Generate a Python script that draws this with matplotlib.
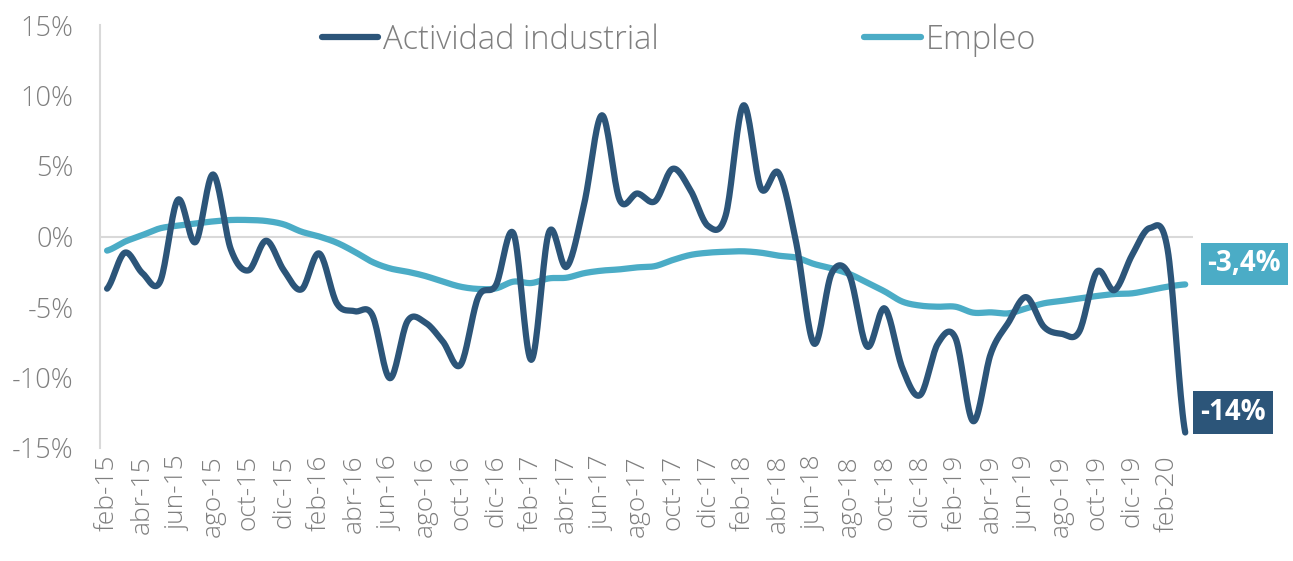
import numpy as np
import matplotlib
matplotlib.use("Agg")
import matplotlib.pyplot as plt
from matplotlib.lines import Line2D

plt.rcParams['font.family'] = ['Open Sans', 'DejaVu Sans']
plt.rcParams['font.weight'] = 'light'

# monthly, feb-15 .. mar-20 (% interanual)
months = ['ene', 'feb', 'mar', 'abr', 'may', 'jun', 'jul', 'ago', 'sep', 'oct', 'nov', 'dic']
labels = []
for k in range(62):
    m = (1 + k) % 12
    y = 15 + (1 + k) // 12
    labels.append('%s-%d' % (months[m], y))

actividad = [-3.7, -1.15, -2.6, -3.2, 2.6, -0.4, 4.4, -0.9, -2.4, -0.3,
             -2.4, -3.75, -1.2, -4.75, -5.3, -5.55, -10.05, -6.0, -6.1, -7.45,
             -9.1, -4.3, -3.45, 0.2, -8.75, 0.3, -2.15, 2.35, 8.6, 2.6,
             3.05, 2.5, 4.8, 3.3, 0.75, 1.5, 9.3, 3.4, 4.5, -0.5,
             -7.6, -2.6, -2.75, -7.8, -5.1, -9.35, -11.25, -7.6, -7.2, -13.1,
             -8.3, -6.1, -4.3, -6.4, -6.9, -6.75, -2.5, -3.8, -1.3, 0.6,
             -0.9, -13.9]
empleo = [-1.0, -0.37, 0.1, 0.58, 0.77, 0.93, 1.07, 1.17, 1.17, 1.1,
          0.86, 0.34, 0.0, -0.44, -1.08, -1.8, -2.26, -2.5, -2.8, -3.2,
          -3.56, -3.72, -3.68, -3.2, -3.3, -2.97, -2.92, -2.6, -2.42, -2.33,
          -2.19, -2.1, -1.67, -1.31, -1.15, -1.08, -1.05, -1.15, -1.36, -1.5,
          -1.95, -2.26, -2.66, -3.27, -3.9, -4.62, -4.9, -4.98, -4.98, -5.4,
          -5.38, -5.45, -5.1, -4.74, -4.57, -4.39, -4.22, -4.08, -4.03, -3.8,
          -3.56, -3.4]

dark = '#2C5579'
light = '#4BACC6'
grey = '#7F7F7F'


def smooth(vals, n=20):
    # excel-like smoothed line (catmull-rom)
    p = np.array(vals, dtype=float)
    p = np.concatenate([[p[0]], p, [p[-1]]])
    xs, ys = [], []
    t = np.linspace(0, 1, n, endpoint=False)
    for i in range(1, len(p) - 2):
        p0, p1, p2, p3 = p[i - 1], p[i], p[i + 1], p[i + 2]
        yy = 0.5 * (2 * p1 + (-p0 + p2) * t + (2 * p0 - 5 * p1 + 4 * p2 - p3) * t ** 2
                    + (-p0 + 3 * p1 - 3 * p2 + p3) * t ** 3)
        xs.extend(i - 1 + t)
        ys.extend(yy)
    xs.append(len(vals) - 1)
    ys.append(vals[-1])
    return np.array(xs), np.array(ys)


fig = plt.figure(figsize=(12.93, 5.61), dpi=100)
ax = fig.add_axes([100 / 1293, 113 / 561, 1093 / 1293, 423 / 561])

x1, y1 = smooth(actividad)
x2, y2 = smooth(empleo)
ax.plot(x1, y1, color=dark, lw=4.5, solid_capstyle='round', zorder=3)
ax.plot(x2, y2, color=light, lw=4.5, solid_capstyle='round', zorder=2)

ax.set_xlim(-0.4, 61.44)
ax.set_ylim(-15, 15)
ax.axhline(0, color='#D9D9D9', lw=1.5, zorder=1)

ax.set_yticks(range(-15, 16, 5))
ax.set_yticklabels(['%d%%' % v for v in range(-15, 16, 5)], fontsize=19.5,
                   color=grey)
ax.set_xticks(range(0, 62, 2))
ax.set_xticklabels(labels[::2], rotation=90, fontsize=19, color=grey)
ax.tick_params(axis='y', length=0, pad=19)
ax.tick_params(axis='x', length=0, pad=5)

for s in ['top', 'right', 'bottom']:
    ax.spines[s].set_visible(False)
ax.spines['left'].set_color('#D9D9D9')
ax.spines['left'].set_linewidth(1.5)

ax.text(64.35, -1.95, '-3,4%', color='white', fontsize=20, fontweight='bold',
        ha='center', va='center', clip_on=False,
        bbox=dict(boxstyle='square,pad=0.25', fc=light, ec='none'))
ax.text(63.7, -12.5, '-14%', color='white', fontsize=20, fontweight='bold',
        ha='center', va='center', clip_on=False,
        bbox=dict(boxstyle='square,pad=0.25', fc=dark, ec='none'))

handles = [Line2D([], [], color=dark, lw=4.5, solid_capstyle='round'),
           Line2D([], [], color=light, lw=4.5, solid_capstyle='round')]
leg = fig.legend(handles, ['Actividad industrial', 'Empleo'], loc='center',
                 bbox_to_anchor=(679 / 1293, 1 - 40 / 561), ncol=2, frameon=False,
                 handlelength=1.72, handletextpad=0.15, columnspacing=6.3,
                 prop={'size': 23.5, 'weight': 'light'})
for t in leg.get_texts():
    t.set_color(grey)

fig.savefig('out.png', dpi=100)
